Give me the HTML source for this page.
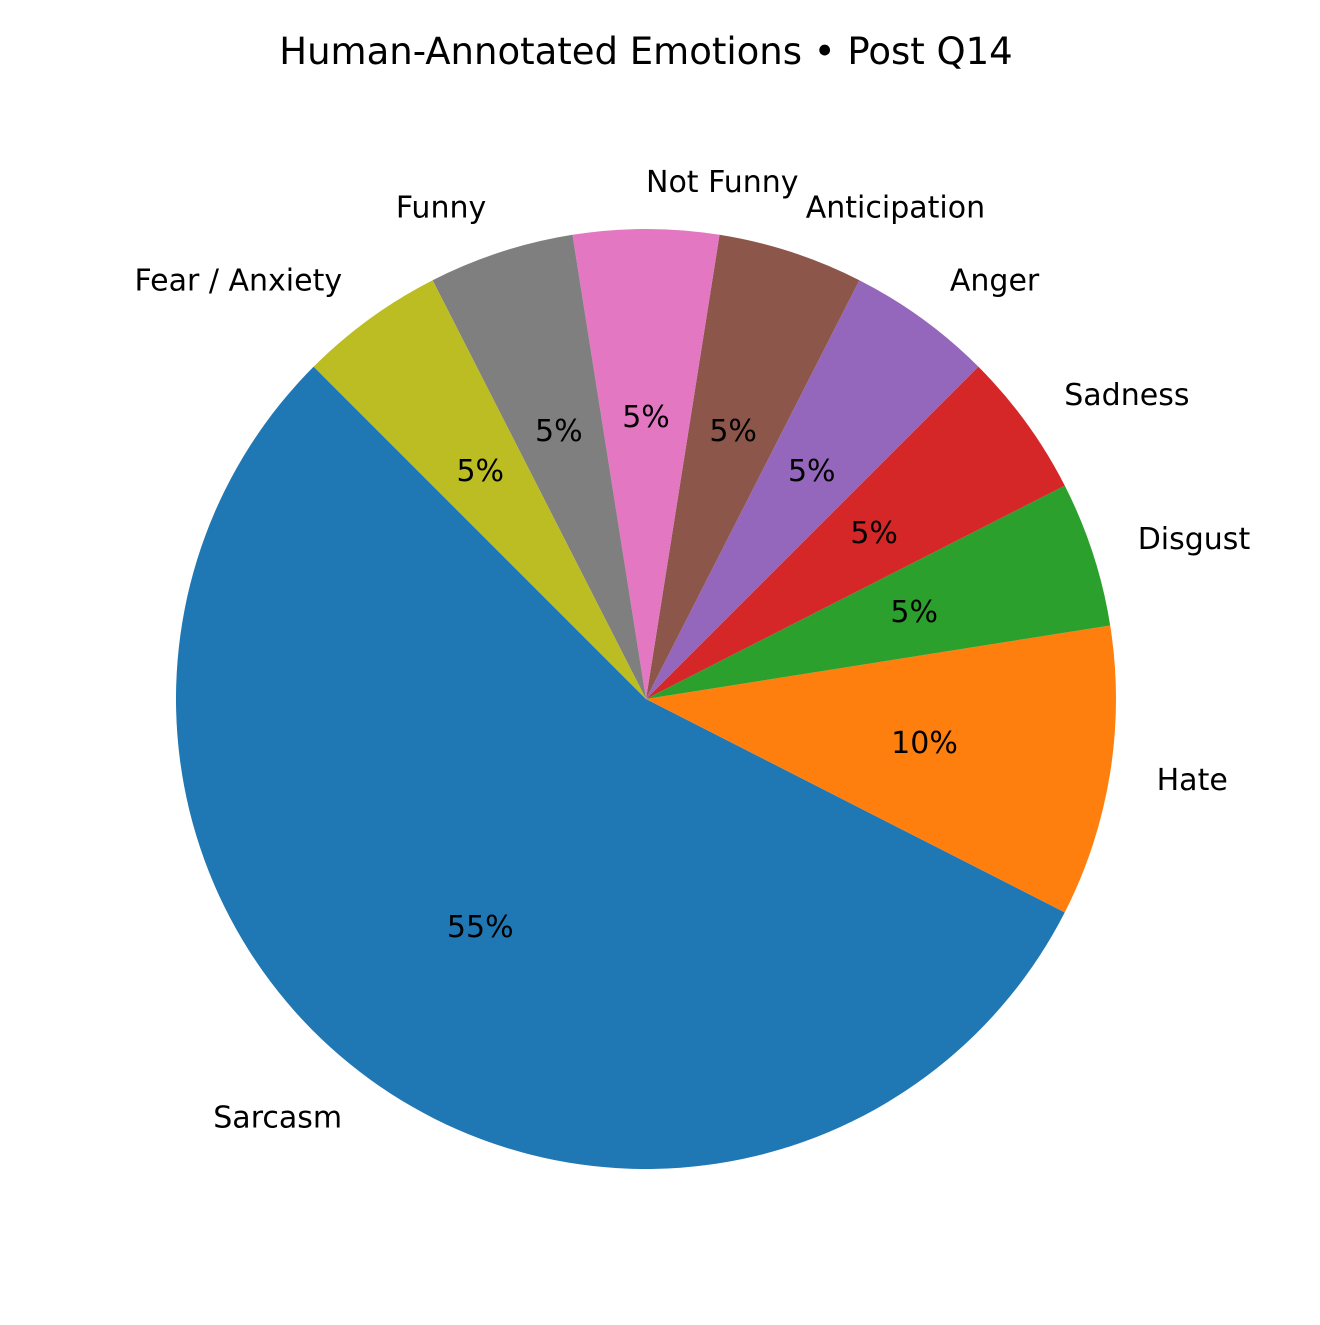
<!DOCTYPE html>
<html><head><meta charset="utf-8"><style>
html,body{margin:0;padding:0;background:#fff;}
svg text{font-family:"DejaVu Sans","Liberation Sans",sans-serif;}
</style></head><body>
<svg id="chart" width="1320" height="1320" viewBox="0 0 1320 1320" xmlns="http://www.w3.org/2000/svg">
<rect width="1320" height="1320" fill="#fff"/>
<text x="646" y="64" font-size="37" text-anchor="middle" fill="#000">Human-Annotated Emotions • Post Q14</text>
<g id="slices"></g>
<g id="labels"></g>
</svg>
<script>
const categories = ["Sarcasm","Hate","Disgust","Sadness","Anger","Anticipation","Not Funny","Funny","Fear / Anxiety"];
const values = [55,10,5,5,5,5,5,5,5];
const colors = ["#1f77b4","#ff7f0e","#2ca02c","#d62728","#9467bd","#8c564b","#e377c2","#7f7f7f","#bcbd22"];
const cx=646, cy=699, R=470, startAngle=135;
const NS="http://www.w3.org/2000/svg";
const total=values.reduce((a,b)=>a+b,0);
const gS=document.getElementById('slices'), gL=document.getElementById('labels');
function pt(a,r){const t=a*Math.PI/180;return [cx+r*Math.cos(t), cy-r*Math.sin(t)];}
let a0=startAngle;
values.forEach((v,i)=>{
  const sweep=v/total*360, a1=a0+sweep;
  const p0=pt(a0,R), p1=pt(a1,R);
  const large=sweep>180?1:0;
  const path=document.createElementNS(NS,'path');
  path.setAttribute('d',`M${cx},${cy} L${p0[0]},${p0[1]} A${R},${R} 0 ${large} 0 ${p1[0]},${p1[1]} Z`);
  path.setAttribute('fill',colors[i]);
  
  
  gS.appendChild(path);
  const mid=(a0+a1)/2;
  const lp=pt(mid,R*1.1);
  const lt=document.createElementNS(NS,'text');
  lt.setAttribute('x',lp[0]);lt.setAttribute('y',lp[1]+10);
  lt.setAttribute('font-size','30');
  lt.setAttribute('text-anchor',Math.cos(mid*Math.PI/180)>=-1e-9?'start':'end');
  lt.textContent=categories[i];
  
  
  gL.appendChild(lt);
  const pp=pt(mid,R*0.6);
  const pt2=document.createElementNS(NS,'text');
  pt2.setAttribute('x',pp[0]);pt2.setAttribute('y',pp[1]+10);
  pt2.setAttribute('font-size','30');
  pt2.setAttribute('text-anchor','middle');
  pt2.textContent=Math.round(v/total*100)+'%';
  
  
  gL.appendChild(pt2);
  a0=a1;
});
</script>
</body></html>
